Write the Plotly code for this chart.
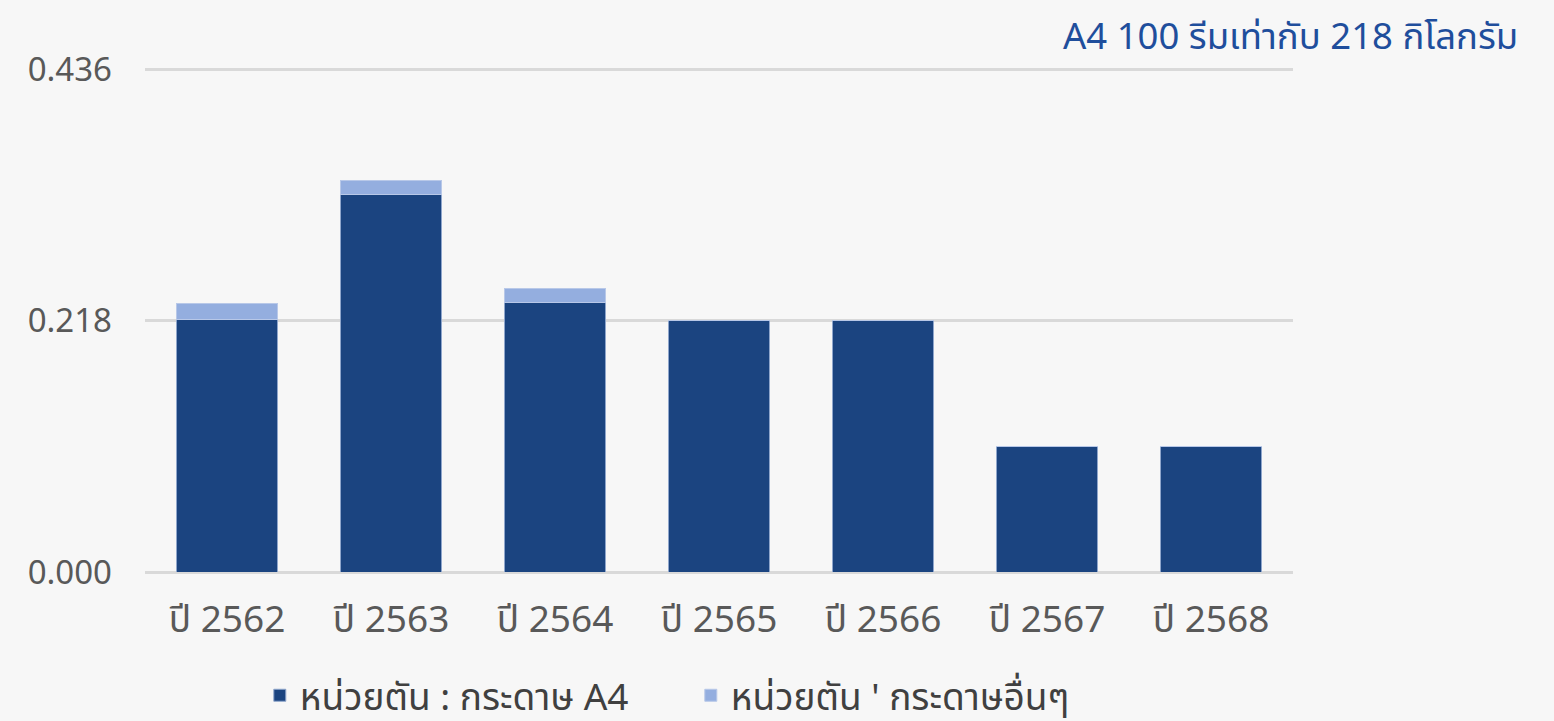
import plotly.graph_objects as go

categories = ["ปี 2562", "ปี 2563", "ปี 2564", "ปี 2565", "ปี 2566", "ปี 2567", "ปี 2568"]
a4_values = [0.219, 0.328, 0.234, 0.218, 0.218, 0.109, 0.109]
other_values = [0.014, 0.012, 0.012, 0, 0, 0, 0]
tick_vals = [0.0, 0.218, 0.436]
tick_text = ["0.000", "0.218", "0.436"]
series_names = ["หน่วยตัน : กระดาษ A4", "หน่วยตัน ' กระดาษอื่นๆ"]
title_text = "A4 100 รีมเท่ากับ 218 กิโลกรัม"

FONT = "Noto Sans, Noto Sans Thai, Tahoma, sans-serif"

fig = go.Figure()
fig.add_trace(go.Bar(x=categories, y=a4_values, name=series_names[0],
                     marker=dict(color="#1b4480", line=dict(color="#8fa6cc", width=1))))
fig.add_trace(go.Bar(x=categories, y=other_values, name=series_names[1],
                     marker=dict(color="#94aedf", line=dict(color="#b8c8e8", width=1))))

fig.update_layout(
    barmode="stack",
    bargap=0.38,
    width=1554, height=721,
    paper_bgcolor="#f7f7f7",
    plot_bgcolor="#f7f7f7",
    margin=dict(l=145, r=261, t=65, b=149, autoexpand=False),
    font=dict(family=FONT, color="#595959", size=28),
    showlegend=True,
    legend=dict(orientation="h", x=0.1, xanchor="left", xref="paper",
                y=-0.244, yanchor="middle",
                font=dict(size=37, color="#404040"), itemwidth=30,
                entrywidth=386, entrywidthmode="pixels",
                traceorder="normal"),
    annotations=[dict(text=title_text, xref="paper", yref="paper",
                      x=1.198, y=1.06, xanchor="right", yanchor="middle",
                      showarrow=False, font=dict(size=36.5, color="#1f4e9c"))],
)
fig.update_xaxes(showgrid=False, showline=False, ticks="", automargin=False,
                 ticklabelstandoff=22,
                 tickfont=dict(size=37, color="#595959"))
fig.update_yaxes(range=[0, 0.44], tickvals=tick_vals, ticktext=tick_text,
                 showgrid=True, gridcolor="#d9d9d9", gridwidth=3,
                 zeroline=True, zerolinecolor="#d9d9d9", zerolinewidth=3,
                 ticks="", ticklabelstandoff=32, automargin=False,
                 tickfont=dict(size=33, color="#595959"))

fig.write_html("out.html", config={"displayModeBar": False},
               post_script="document.body.style.margin='0';document.body.style.padding='0';")
